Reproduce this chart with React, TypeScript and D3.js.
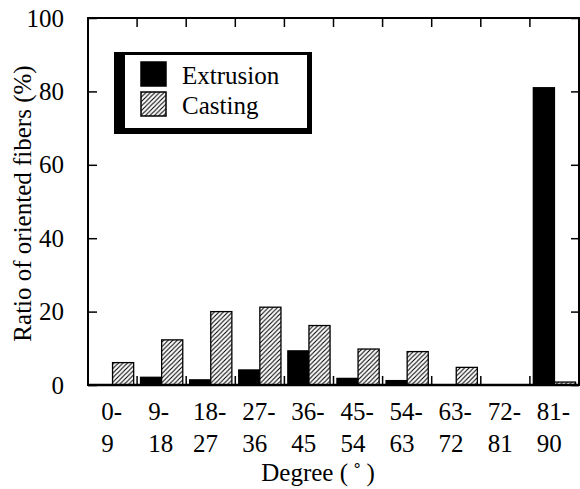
import { useEffect, useRef } from 'react';
import * as d3 from 'd3';

const categories = ['0-9', '9-18', '18-27', '27-36', '36-45', '45-54', '54-63', '63-72', '72-81', '81-90'];
const extrusion = [0, 2.1, 1.4, 4.1, 9.3, 1.8, 1.2, 0, 0, 81];
const casting = [6.1, 12.3, 20, 21.2, 16.2, 9.8, 9.1, 4.8, 0, 0.8];
const seriesNames = ['Extrusion', 'Casting'];
const yTicks = [0, 20, 40, 60, 80, 100];

const FONT = "'Liberation Serif', 'Times New Roman', serif";

function App() {
  const svgRef = useRef<SVGSVGElement>(null);

  useEffect(() => {
    const svg = d3.select(svgRef.current);
    svg.selectAll('*').remove();

    const width = 580;
    const height = 489;
    const left = 88, right = 579, top = 18, bottom = 385;

    svg.attr('width', width).attr('height', height);

    // hatch pattern for casting
    const defs = svg.append('defs');
    defs.append('pattern')
      .attr('id', 'hatch')
      .attr('patternUnits', 'userSpaceOnUse')
      .attr('width', 4.5)
      .attr('height', 4.5)
      .call(p => {
        p.append('rect').attr('width', 4.5).attr('height', 4.5).attr('fill', 'white');
        p.append('path')
          .attr('d', 'M-1,1 l2,-2 M0,4.5 l4.5,-4.5 M3.5,5.5 l2,-2')
          .attr('stroke', 'black')
          .attr('stroke-width', 1.1);
      });

    const x = d3.scaleBand<string>().domain(categories).range([left, right]).paddingInner(0.14).paddingOuter(0.07);
    const xStep = d3.scaleBand<string>().domain(categories).range([left, right]);
    const xInner = d3.scaleBand<string>().domain(seriesNames).range([0, x.bandwidth()]);
    const y = d3.scaleLinear().domain([0, 100]).range([bottom, top]);

    // bars
    const series = [extrusion, casting];
    series.forEach((vals, si) => {
      svg.append('g')
        .selectAll('rect')
        .data(vals)
        .enter()
        .append('rect')
        .attr('x', (d, i) => (x(categories[i]) as number) + (xInner(seriesNames[si]) as number))
        .attr('y', d => y(d))
        .attr('width', xInner.bandwidth())
        .attr('height', d => bottom - y(d))
        .attr('fill', si === 0 ? 'black' : 'url(#hatch)')
        .attr('stroke', 'black')
        .attr('stroke-width', d => (d > 0 ? 1.3 : 0));
    });

    // frame
    svg.append('rect')
      .attr('x', left).attr('y', top)
      .attr('width', right - left).attr('height', bottom - top)
      .attr('fill', 'none').attr('stroke', 'black').attr('stroke-width', 2);
    svg.append('line')
      .attr('x1', left).attr('x2', right).attr('y1', bottom).attr('y2', bottom)
      .attr('stroke', 'black').attr('stroke-width', 2.5);

    // y axis (ticks inward)
    const yAxis = svg.append('g')
      .attr('transform', `translate(${left},0)`)
      .call(d3.axisLeft(y).tickValues(yTicks).tickSize(-9).tickPadding(24));
    yAxis.attr('font-family', FONT);
    yAxis.select('.domain').remove();
    yAxis.selectAll('line').attr('stroke-width', 1.5);
    yAxis.selectAll('text').attr('font-size', 25).attr('font-family', FONT).attr('fill', 'black');

    const yAxisR = svg.append('g')
      .attr('transform', `translate(${right},0)`)
      .call(d3.axisRight(y).tickValues(yTicks).tickSize(-8).tickFormat(() => ''));
    yAxisR.select('.domain').remove();
    yAxisR.selectAll('line').attr('stroke-width', 1.5);

    // x boundary ticks, top and bottom
    const boundaries = categories.slice(1).map(c => xStep(c) as number);
    svg.append('g').selectAll('line').data(boundaries).enter().append('line')
      .attr('x1', d => d).attr('x2', d => d)
      .attr('y1', top).attr('y2', top + 9)
      .attr('stroke', 'black').attr('stroke-width', 1.5);
    svg.append('g').selectAll('line').data(boundaries).enter().append('line')
      .attr('x1', d => d).attr('x2', d => d)
      .attr('y1', bottom).attr('y2', bottom - 9)
      .attr('stroke', 'black').attr('stroke-width', 1.5);

    // x labels, two lines, left aligned in a centered block
    const charW = (s: string) => s.split('').reduce((a, ch) => a + (ch === '-' ? 0.333 : 0.5), 0) * 25;
    const xl = svg.append('g').attr('font-size', 25).attr('font-family', FONT).attr('fill', 'black');
    categories.forEach(c => {
      const [a, b] = c.split('-');
      const l1 = a + '-';
      const w = Math.max(charW(l1), charW(b));
      const cx = (xStep(c) as number) + xStep.bandwidth() / 2;
      const tx = xl.append('text').attr('x', cx - w / 2 - 1);
      tx.append('tspan').attr('x', cx - w / 2 - 1).attr('y', 420).text(l1);
      tx.append('tspan').attr('x', cx - w / 2 - 1).attr('y', 452).text(b);
    });

    // axis titles
    svg.append('text')
      .attr('x', 318).attr('y', 481)
      .attr('text-anchor', 'middle')
      .attr('font-size', 25)
      .attr('font-family', FONT)
      .text('Degree (\u2009\u02DA\u2009)');

    svg.append('text')
      .attr('transform', `translate(31,${(top + bottom) / 2 + 2}) rotate(-90)`)
      .attr('text-anchor', 'middle')
      .attr('font-size', 25)
      .attr('font-family', FONT)
      .text('Ratio of oriented fibers (%)');

    // legend
    const lg = svg.append('g');
    lg.append('rect').attr('x', 114).attr('y', 52).attr('width', 198).attr('height', 82).attr('fill', 'black');
    lg.append('rect').attr('x', 125).attr('y', 55).attr('width', 182).attr('height', 73).attr('fill', 'white');
    seriesNames.forEach((name, i) => {
      const yy = 62 + i * 30;
      lg.append('rect')
        .attr('x', 141).attr('y', yy)
        .attr('width', 25).attr('height', 24)
        .attr('fill', i === 0 ? 'black' : 'url(#hatch)')
        .attr('stroke', 'black').attr('stroke-width', 1.5);
      lg.append('text')
        .attr('x', 182).attr('y', yy + 22)
        .attr('font-size', 25)
        .attr('font-family', FONT)
        .text(name);
    });
  }, []);

  return (
    <div style={{ position: 'absolute', left: 0, top: 0 }}>
      <svg ref={svgRef} style={{ display: 'block', background: 'white' }}></svg>
    </div>
  );
}

export default App;
